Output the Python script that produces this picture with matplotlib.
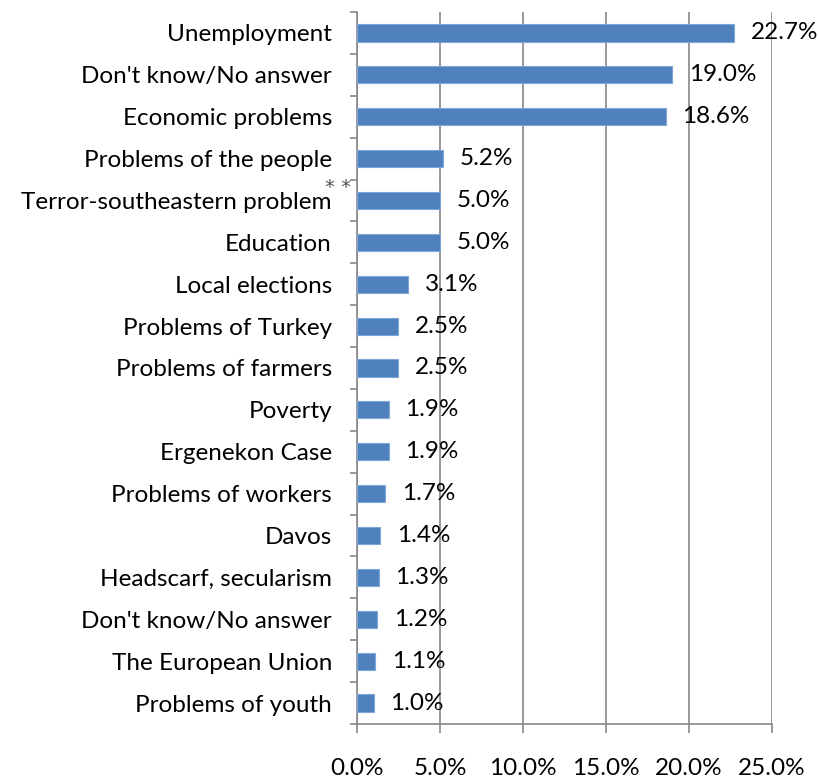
import matplotlib
matplotlib.use("Agg")
import matplotlib.pyplot as plt
import numpy as np

categories = ["Unemployment", "Don't know/No answer", "Economic problems",
              "Problems of the people", "Terror-southeastern problem", "Education",
              "Local elections", "Problems of Turkey", "Problems of farmers",
              "Poverty", "Ergenekon Case", "Problems of workers", "Davos",
              "Headscarf, secularism", "Don't know/No answer", "The European Union",
              "Problems of youth"]
values = [22.7, 19.0, 18.6, 5.2, 5.0, 5.0, 3.1, 2.5, 2.5, 1.9, 1.9, 1.7, 1.4,
          1.3, 1.2, 1.1, 1.0]
xticks = [0, 5, 10, 15, 20, 25]

plt.rcParams['font.family'] = ['Lato', 'DejaVu Sans']
FS = 17.5

fig = plt.figure(figsize=(8.18, 7.78), dpi=100)
ax = fig.add_axes([0.4364, 0.0694, 0.5074, 0.9152])

n = len(categories)
y = np.arange(n)
ax.barh(y, values, height=0.41, color='#4F81BD', edgecolor='#7FA6D6', linewidth=0.8, zorder=3)
ax.set_ylim(n - 0.5, -0.5)
ax.set_xlim(0, 25)

for yi, v in zip(y, values):
    ax.annotate(f"{v:.1f}%", xy=(v, yi), xytext=(12, 0), textcoords='offset points',
                ha='left', va='center', fontsize=FS, color='black', zorder=4)

ax.set_yticks(y)
ax.set_yticklabels(categories, fontsize=FS)
ax.set_yticks(np.arange(-0.5, n, 1), minor=True)
ax.tick_params(axis='y', which='major', length=0, pad=18)
ax.tick_params(axis='y', which='minor', length=5, color='#888888', width=1.2, direction='out')

ax.set_xticks(xticks)
ax.set_xticklabels([f"{t:.1f}%" for t in xticks], fontsize=FS)
ax.tick_params(axis='x', which='major', length=6.5, color='#888888', width=1.2, pad=18)

ax.grid(axis='x', color='#888888', linewidth=1.2, zorder=0)
for s in ['top', 'right']:
    ax.spines[s].set_visible(False)
for s in ['left', 'bottom']:
    ax.spines[s].set_color('#888888')
    ax.spines[s].set_linewidth(1.2)

# superscript marker after the Terror label
ax.annotate("* *", xy=(0, 4), xytext=(-14, 9), textcoords='offset points',
            ha='center', va='center', fontsize=14, color='#555555',
            family='DejaVu Sans', annotation_clip=False)

fig.savefig("out.png", dpi=100)
